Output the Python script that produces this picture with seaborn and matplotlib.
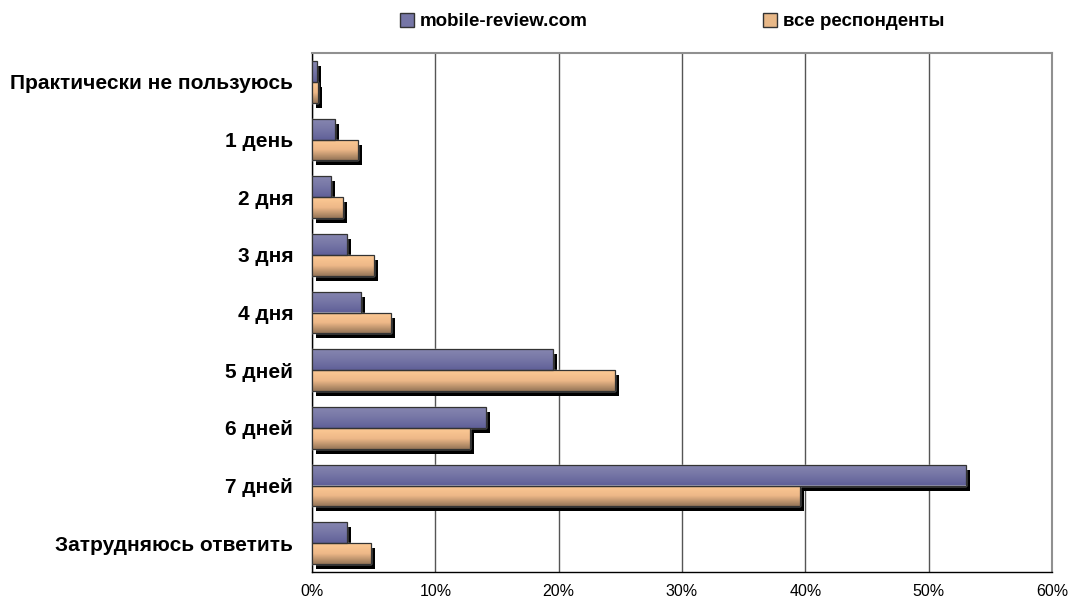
import numpy as np
import pandas as pd
import matplotlib
matplotlib.use("Agg")
import matplotlib.pyplot as plt
import matplotlib.transforms as mtransforms
from matplotlib.colors import LinearSegmentedColormap
from matplotlib.patches import Rectangle
import seaborn as sns

categories = ["Практически не пользуюсь", "1 день", "2 дня", "3 дня", "4 дня",
              "5 дней", "6 дней", "7 дней", "Затрудняюсь ответить"]
mobile_review = [0.4, 1.9, 1.5, 2.8, 4.0, 19.5, 14.1, 53.0, 2.8]
all_resp = [0.5, 3.7, 2.5, 5.0, 6.4, 24.6, 12.8, 39.6, 4.8]
series_names = ["mobile-review.com", "все респонденты"]
x_ticks = [0, 10, 20, 30, 40, 50, 60]

df = pd.DataFrame({
    "cat": categories * 2,
    "value": mobile_review + all_resp,
    "series": [series_names[0]] * len(categories) + [series_names[1]] * len(categories),
})

sns.set_style("white")
plt.rcParams["font.family"] = ["Liberation Sans", "DejaVu Sans"]
plt.rcParams.update({"text.color": "black", "xtick.color": "black",
                     "ytick.color": "black", "axes.labelcolor": "black"})

fig = plt.figure(figsize=(10.7, 6.03), dpi=100)
ax = fig.add_axes([312 / 1070, 1 - 572 / 603, (1052 - 312) / 1070, (572 - 53) / 603])

colors = ["#7676a6", "#e8b888"]
sns.barplot(data=df, x="value", y="cat", hue="series", orient="h",
            palette=colors, width=0.72, ax=ax, legend=False, zorder=3)

# gradients for each series: top -> bottom
grads = [
    LinearSegmentedColormap.from_list("b", ["#8686b0", "#7676a6", "#606098"]),
    LinearSegmentedColormap.from_list("o", ["#fdca94", "#eeb888", "#967658"]),
]
n = len(categories)
shadow_tr = mtransforms.offset_copy(ax.transData, fig=fig, x=4, y=-5, units="dots")
for i, p in enumerate(ax.patches[:2 * n]):
    s = i // n
    x0, y0, w, h = p.get_x(), p.get_y(), p.get_width(), p.get_height()
    ax.add_patch(Rectangle((x0, y0), w, h, facecolor="black", edgecolor="none",
                           transform=shadow_tr, zorder=2))
    img = ax.imshow(np.linspace(0, 1, 64).reshape(-1, 1), cmap=grads[s], aspect="auto",
                    extent=(x0, x0 + w, y0 + h, y0), zorder=4, interpolation="bilinear")
    img.set_clip_path(p)
    ax.add_patch(Rectangle((x0, y0), w, h, facecolor="none", edgecolor="#333333",
                           linewidth=0.9, zorder=5))

ax.set_xlim(0, 60)
ax.set_ylim(n - 0.5, -0.5)
ax.set_xticks(x_ticks)
ax.set_xticklabels([f"{t}%" for t in x_ticks], fontsize=11.5)
ax.set_xlabel("")
ax.set_ylabel("")
ax.set_yticks(range(n))
ax.set_yticklabels(categories, fontsize=15, fontweight="bold")
ax.tick_params(axis="y", length=0, pad=13.5)
ax.set_yticks(np.arange(-0.5, n, 1), minor=True)
ax.tick_params(axis="y", which="minor", length=5, width=1, color="black", direction="out")
ax.tick_params(axis="x", length=4, width=1, color="black", direction="out", pad=5)
ax.xaxis.grid(True, color="#555555", linewidth=1, zorder=0)
ax.set_axisbelow(True)
for side in ["top", "right"]:
    ax.spines[side].set_color("#909090")
    ax.spines[side].set_linewidth(1.5)
for side in ["left", "bottom"]:
    ax.spines[side].set_color("black")
    ax.spines[side].set_linewidth(1)

# legend: two entries placed separately, as in the original
for name, c, xpos in zip(series_names, colors, [400, 763]):
    h = Rectangle((0, 0), 1, 1, facecolor=c, edgecolor="#333333")
    leg = fig.legend([h], [name], loc="center left",
                     bbox_to_anchor=(xpos / 1070, 1 - 21.5 / 603),
                     frameon=False, prop={"weight": "bold", "size": 13.5},
                     borderpad=0, borderaxespad=0,
                     handlelength=0.75, handleheight=0.75, handletextpad=0.3)

fig.savefig("out.png", dpi=100)
